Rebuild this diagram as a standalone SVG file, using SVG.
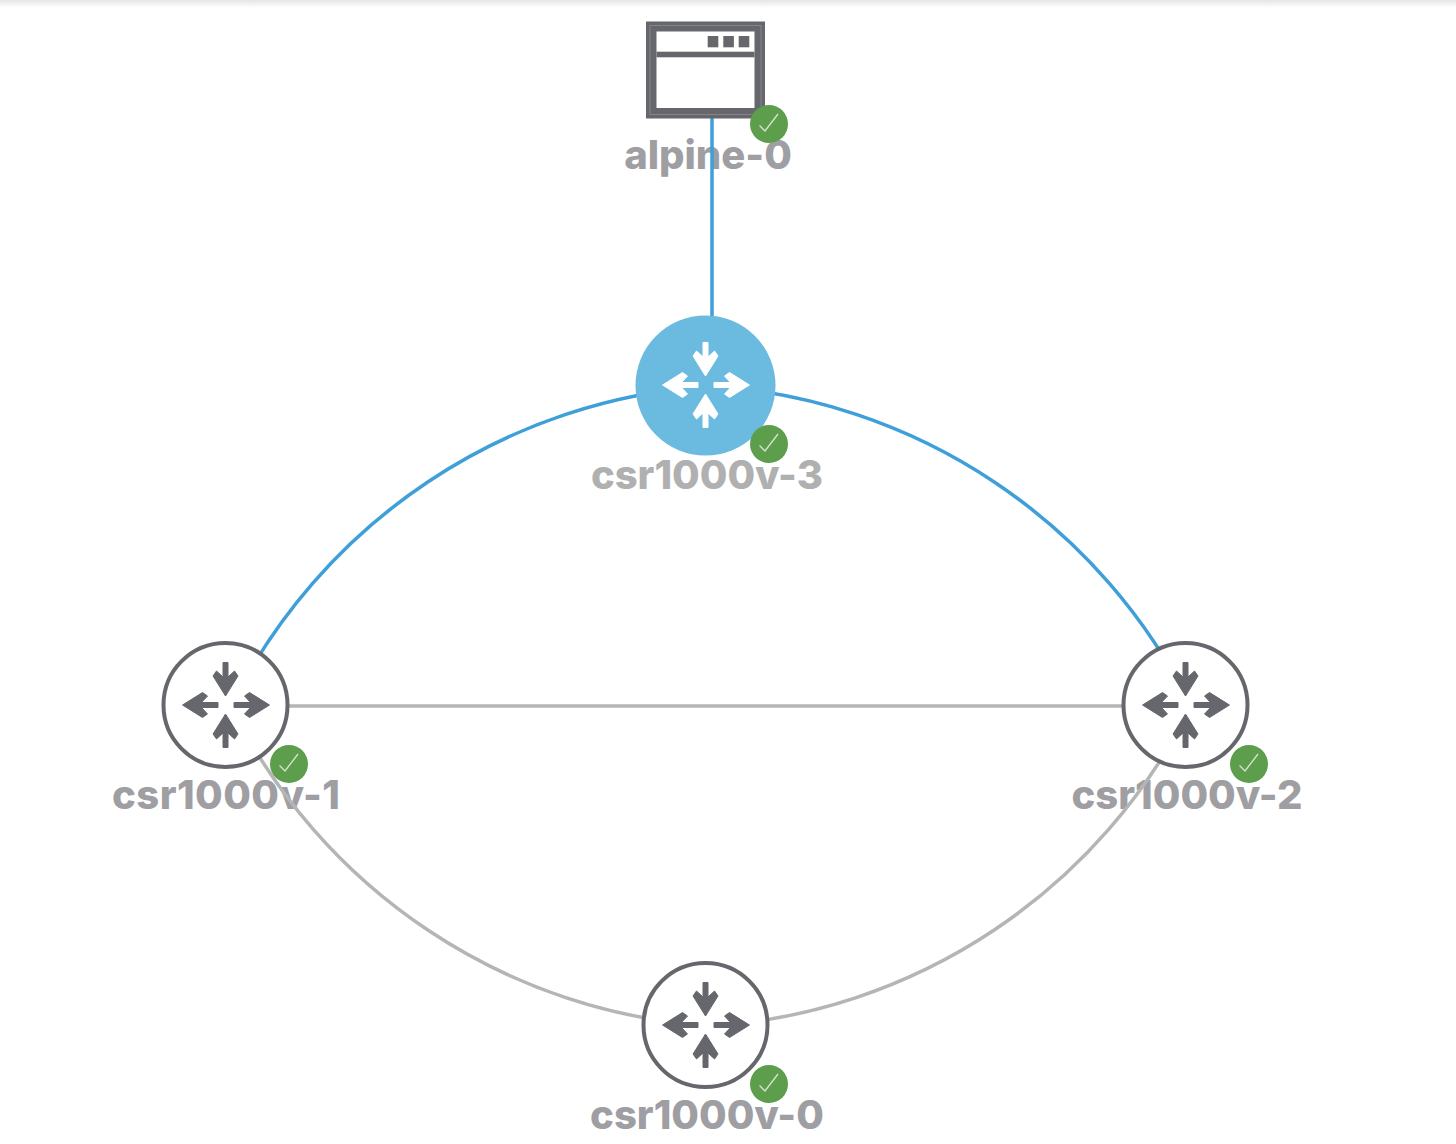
<svg xmlns="http://www.w3.org/2000/svg" xmlns:xlink="http://www.w3.org/1999/xlink" width="1456" height="1144" viewBox="0 0 1456 1144">
<style>
.lbl{font-family:Inter,"Liberation Sans",sans-serif;font-weight:800;font-size:40px;fill:#9e9ea3;text-anchor:middle}
.lnk{fill:none;stroke-width:3.500}
.blue{stroke:#3f9fd8}
.gray{stroke:#b5b5b5}
.ring{fill:#fff;stroke:#66676d;stroke-width:4}
.badge{fill:#5c9e4c}
.chk{fill:none;stroke:#d5e6d0;stroke-width:1.3}
.ico{fill:#66676d;stroke:#66676d;stroke-width:1;stroke-linejoin:round}
.wht{fill:#fff;stroke:#fff;stroke-width:1;stroke-linejoin:round}
</style>
<defs>
<linearGradient id="top" x1="0" y1="0" x2="0" y2="1"><stop offset="0" stop-color="#e6e6e6"/><stop offset="1" stop-color="#ffffff"/></linearGradient>
<g id="arrows">
<path d="M-2.500-42.500H2.500V-28L9-34 12.500-29 0-9-12.500-29-9-34-2.500-28Z"/>
<path d="M-2.500 42.500H2.500V28L9 34 12.500 29 0 9-12.500 29-9 34-2.500 28Z"/>
<path d="M-7.500-2.500H-24L-18-9-23-12.500-43 0-23 12.500-18 9-24 2.500H-7.500Z"/>
<path d="M8.500-2.500H25L19-9 24-12.500 44 0 24 12.500 19 9 25 2.500H8.500Z"/>
</g>
<g id="check"><circle class="badge" r="19"/><path class="chk" d="M-9.500 1.500-4 7 9-10"/></g>
</defs>
<rect width="1456" height="8" fill="url(#top)"/>
<g id="labels">
<text class="lbl" x="708" y="169">alpine-0</text>
<text class="lbl" style="fill:#b0b0b0" x="707" y="489">csr1000v-3</text>
<text class="lbl" x="226" y="809" textLength="228">csr1000v-1</text>
<text class="lbl" x="1187" y="809" textLength="231">csr1000v-2</text>
<text class="lbl" x="707" y="1129">csr1000v-0</text>
</g>
<g id="connectors">
<path class="lnk blue" d="M712 118V320"/>
<path class="lnk blue" d="M711 386A577 577 0 0 0 231 706"/>
<path class="lnk blue" d="M711 386A577 577 0 0 1 1191 706"/>
<path class="lnk gray" d="M231 706H1191"/>
<path class="lnk gray" d="M231 706A577 577 0 0 0 711 1026"/>
<path class="lnk gray" d="M1191 706A577 577 0 0 1 711 1026"/>
</g>
<g id="alpine-0">
<rect x="646" y="21.500" width="119" height="97" fill="#66676d"/>
<rect x="650" y="25.500" width="111" height="89" fill="none" stroke="#8c8d92" stroke-width="0.800"/>
<rect x="656.500" y="31.500" width="98" height="76.500" fill="#fff"/>
<rect x="656.500" y="51.700" width="98" height="5.600" fill="#66676d"/>
<rect x="707.700" y="36" width="10.600" height="11.300" fill="#66676d"/>
<rect x="723.300" y="36" width="10.600" height="11.300" fill="#66676d"/>
<rect x="738.700" y="36" width="10.600" height="11.300" fill="#66676d"/>
<use href="#check" x="769" y="124"/>
</g>
<g id="csr1000v-3">
<circle cx="705.500" cy="385.500" r="70" fill="#6bbae0"/>
<use href="#arrows" x="705.500" y="385" class="wht"/>
<use href="#check" x="769" y="444"/>
</g>
<g id="csr1000v-1">
<circle class="ring" cx="225.500" cy="705" r="62"/>
<use href="#arrows" x="225.500" y="705" class="ico"/>
<use href="#check" x="289" y="764"/>
</g>
<g id="csr1000v-2">
<circle class="ring" cx="1185.500" cy="705" r="62"/>
<use href="#arrows" x="1185.500" y="705" class="ico"/>
<use href="#check" x="1249" y="764"/>
</g>
<g id="csr1000v-0">
<circle class="ring" cx="705.500" cy="1025" r="62"/>
<use href="#arrows" x="705.500" y="1025" class="ico"/>
<use href="#check" x="769" y="1084"/>
</g>
</svg>
